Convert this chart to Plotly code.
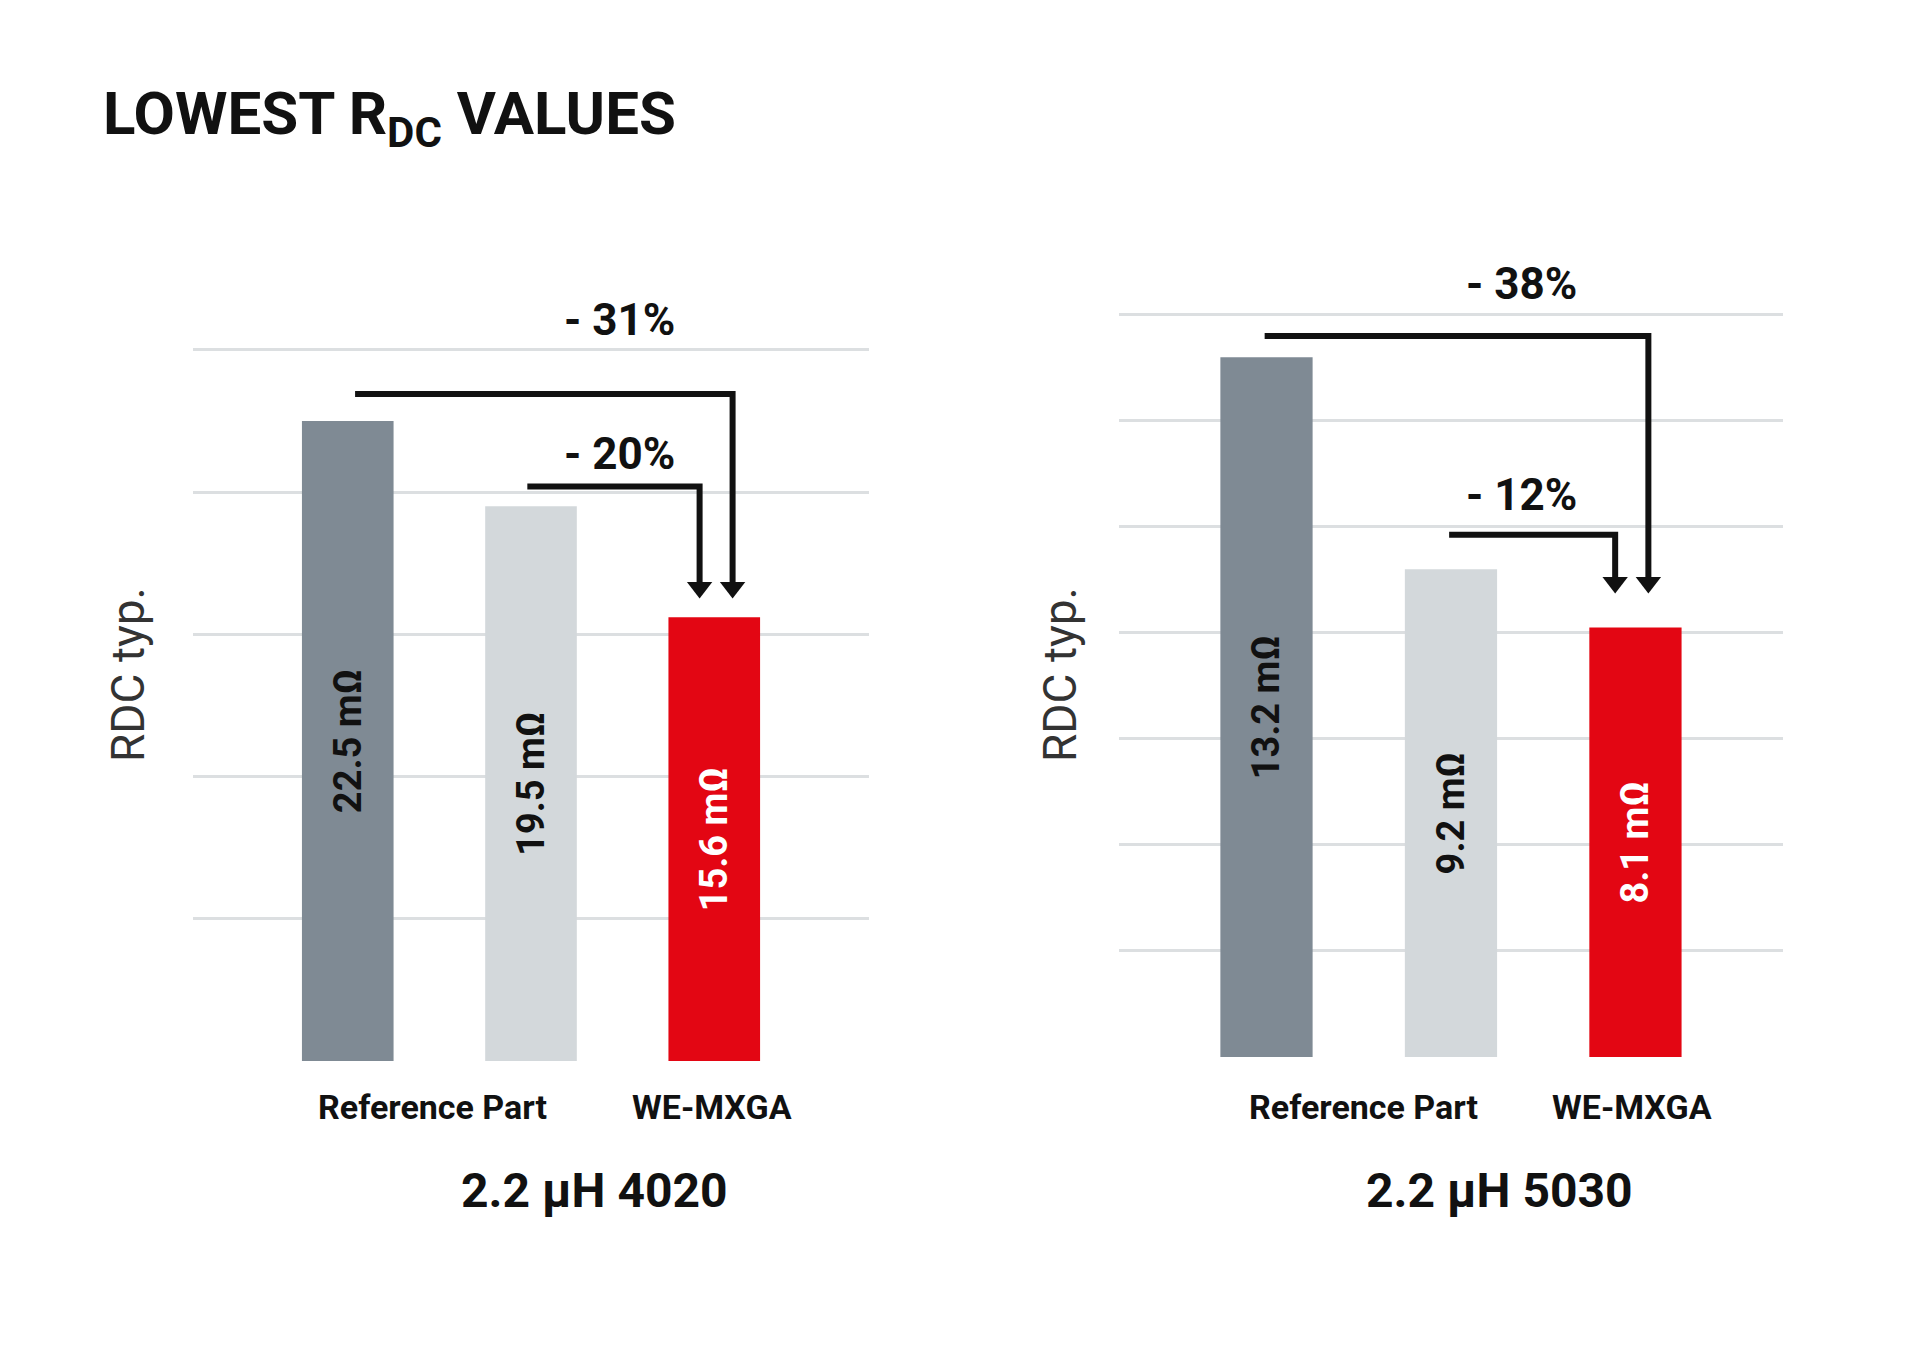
import plotly.graph_objects as go

cats = [0, 1, 2]
left_vals = [22.5, 19.5, 15.6]
right_vals = [13.2, 9.2, 8.1]
left_labels = ["22.5 mΩ", "19.5 mΩ", "15.6 mΩ"]
right_labels = ["13.2 mΩ", "9.2 mΩ", "8.1 mΩ"]
bar_colors = ["#7f8a94", "#d3d8db", "#e30613"]
text_colors = ["#111111", "#111111", "#ffffff"]
cat_names = ["Reference Part", "WE-MXGA"]
groups = ["2.2 µH 4020", "2.2 µH 5030"]
# arrows: (start x, y level, end x, tip y)
left_arrows = [(0.04, 23.45, 2.10, 16.1), (0.98, 20.2, 1.92, 16.1)]
right_arrows = [(-0.01, 13.6, 2.07, 8.4), (0.99, 9.85, 1.89, 8.4)]
left_pcts = ["- 31%", "- 20%"]
right_pcts = ["- 38%", "- 12%"]

FONT = "Roboto"
fig = go.Figure()
for vals, labels, xa, ya in [(left_vals, left_labels, "x", "y"), (right_vals, right_labels, "x2", "y2")]:
    fig.add_trace(go.Bar(x=cats, y=vals, text=labels, width=0.5,
                         marker=dict(color=bar_colors, line=dict(width=0)),
                         textposition="inside", textangle=-90, insidetextanchor="middle",
                         textfont=dict(family=FONT, size=38, color=text_colors, weight="bold"),
                         xaxis=xa, yaxis=ya, showlegend=False, hoverinfo="skip"))

for arrows, xa, ya in [(left_arrows, "x", "y"), (right_arrows, "x2", "y2")]:
    for sx, ly, ex, ty in arrows:
        fig.add_trace(go.Scatter(x=[sx, ex, ex], y=[ly, ly, ty + 0.6], mode="lines",
                                 line=dict(color="#111111", width=6), xaxis=xa, yaxis=ya,
                                 showlegend=False, hoverinfo="skip", cliponaxis=False))
        fig.add_trace(go.Scatter(x=[ex], y=[ty + 0.55], mode="markers",
                                 marker=dict(symbol="triangle-down", size=22, color="#111111"),
                                 xaxis=xa, yaxis=ya, showlegend=False, hoverinfo="skip", cliponaxis=False))

def px(xp, yp, text, size, weight="bold", color="#111111", angle=0, xanchor="center"):
    return dict(x=xp / 1920, y=1 - yp / 1347, xref="paper", yref="paper", text=text, showarrow=False,
                xanchor=xanchor, yanchor="middle", textangle=angle,
                font=dict(family=FONT, size=size, color=color, weight=weight))

anns = [
    px(611, 312, left_pcts[0], 44),
    px(611, 446, left_pcts[1], 44),
    px(1513, 276, right_pcts[0], 44),
    px(1513, 487, right_pcts[1], 44),
    px(93, 109, "LOWEST R<sub>DC</sub> VALUES", 60, xanchor="left"),
    px(120, 667, "RDC typ.", 46, weight="normal", color="#333333", angle=-90),
    px(1052, 667, "RDC typ.", 46, weight="normal", color="#333333", angle=-90),
    px(424, 1099, cat_names[0], 34),
    px(704, 1099, cat_names[1], 34),
    px(1355, 1099, cat_names[0], 34),
    px(1624, 1099, cat_names[1], 34),
    px(586, 1182, groups[0], 48),
    px(1491, 1182, groups[1], 48),
]

grid = dict(showgrid=True, gridcolor="#dcdfe1", gridwidth=3, zeroline=False, showticklabels=False,
            ticks="", showline=False)
xax = dict(showgrid=False, zeroline=False, showticklabels=False, ticks="", showline=False)
fig.update_layout(
    width=1920, height=1347, margin=dict(l=0, r=0, t=0, b=0),
    plot_bgcolor="white", paper_bgcolor="white",
    xaxis=dict(xax, domain=[0.0964, 0.4484], range=[-0.844, 2.844]),
    yaxis=dict(grid, domain=[0.2183, 0.7483], range=[0, 25.1], dtick=5),
    xaxis2=dict(xax, domain=[0.5786, 0.9245], range=[-0.80, 2.80], anchor="y2"),
    yaxis2=dict(grid, domain=[0.2212, 0.7762], range=[0, 14.1], dtick=2, anchor="x2"),
    annotations=anns,
)
fig.write_html("out.html")
